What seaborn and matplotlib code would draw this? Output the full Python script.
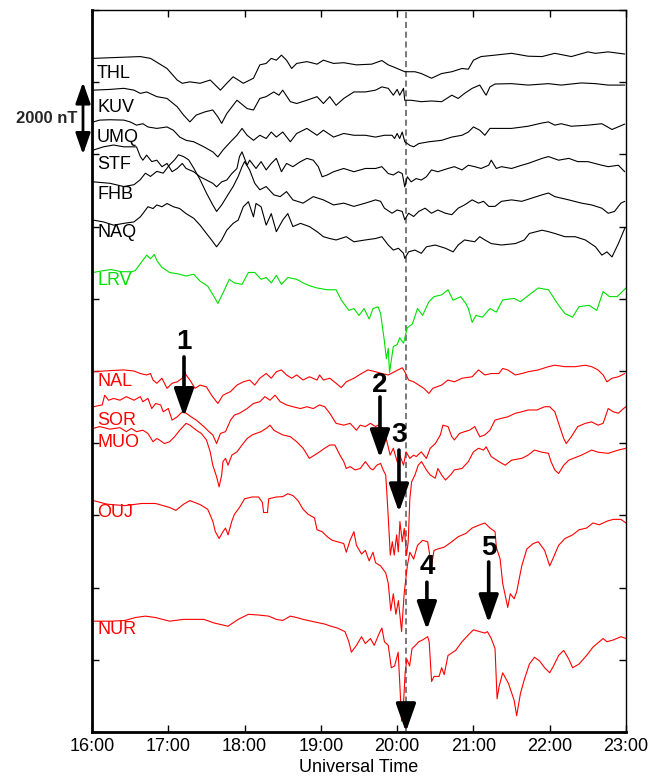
import numpy as np
import pandas as pd
import matplotlib
matplotlib.use("Agg")
import matplotlib.pyplot as plt
import seaborn as sns

# ---- magnetometer traces: minutes after 16:00 UT and deflection in nT ----
THL_MIN = [1,38,46,59,67,71,77,85,93,101,106,111,119,127,132,137,141,145,149,153,157,161,169,177,182,190,198,208,220,228,233,238,246,254,259,267,275,283,291,296,300,306,317,330,343,354,364,377,390,396,406,419]
THL_NT = [0,50,0,-280,-600,-690,-650,-690,-600,-880,-690,-510,-690,-550,-180,-140,0,-50,90,-50,-280,-140,-90,-160,-50,-140,-120,-180,-160,-60,-180,-250,-370,-370,-420,-550,-420,-370,-280,-300,-50,50,90,140,60,50,140,50,180,140,180,120]

KUV_MIN = [1,14,25,33,38,43,51,59,67,72,77,82,89,95,99,102,106,114,122,127,132,137,143,147,150,156,161,169,177,182,187,192,198,206,215,223,228,233,237,240,242,245,246,251,259,267,275,283,288,293,299,305,309,310,313,317,330,343,359,369,385,396,406,419]
KUV_NT = [0,20,50,0,-90,-50,-180,-230,-460,-690,-880,-690,-600,-550,-740,-920,-650,-280,-510,-550,-230,-180,-50,-140,0,-320,-370,-280,-180,-370,-180,-420,-230,-50,-50,0,90,50,-140,20,-140,50,-280,-280,-320,-300,-320,-140,-230,-90,50,140,-90,-140,90,170,180,140,180,140,200,180,140,140]

UMQ_MIN = [1,6,14,25,30,35,40,44,51,59,64,69,74,80,88,95,99,103,109,114,118,122,127,132,137,141,145,150,156,161,169,177,182,190,198,206,215,223,230,236,238,240,242,244,246,250,253,257,265,275,283,291,296,300,305,309,313,320,330,343,354,359,364,369,377,390,401,409,419]
UMQ_NT = [0,50,60,50,0,-90,-50,-140,-180,-140,-230,-420,-510,-550,-690,-830,-970,-780,-550,-370,-180,-370,-510,-370,-460,-280,-420,-280,-550,-320,-180,-370,-230,-420,-320,-370,-370,-420,-370,-370,-460,-320,-460,-280,-550,-650,-690,-600,-550,-510,-420,-370,-280,-140,-230,-370,-180,-180,-180,-120,-30,0,-90,-50,-120,-90,-50,-210,-60]

STF_MIN = [1,9,17,25,35,38,40,43,47,51,55,59,63,67,71,74,80,85,90,95,98,102,106,110,114,116,118,122,124,129,133,137,141,145,149,153,158,164,169,174,178,181,185,190,198,206,215,223,228,233,237,241,244,245,246,248,251,255,259,263,267,272,280,285,291,296,301,306,312,314,318,322,330,338,343,354,359,367,375,382,390,401,406,414,419]
STF_NT = [0,90,140,90,90,-180,-280,-140,-320,-280,-460,-370,-600,-510,-370,-510,-600,-740,-830,-920,-1020,-880,-830,-650,-510,-180,-50,-420,-280,-510,-320,-550,-370,-230,-600,-370,-460,-320,-230,-280,-460,-740,-690,-600,-510,-600,-510,-510,-460,-650,-690,-600,-650,-830,-1020,-740,-880,-790,-830,-740,-550,-600,-510,-460,-550,-420,-460,-510,-420,-280,-510,-460,-510,-420,-370,-230,-180,-280,-230,-320,-320,-420,-460,-420,-600]

FHB_MIN = [1,14,25,33,38,42,46,51,56,61,65,68,72,76,80,85,90,95,98,102,106,111,115,118,120,124,128,132,137,143,148,153,158,166,174,182,190,198,206,215,223,227,230,236,240,244,246,249,253,257,262,267,272,278,283,288,293,299,304,308,312,317,322,330,338,346,354,359,364,375,385,393,401,406,411,416,419]
FHB_NT = [0,-40,-130,-80,60,240,150,290,240,470,610,750,700,610,380,60,-310,-640,-820,-640,-410,-130,150,420,560,330,-40,-220,-130,-360,-410,-270,-500,-590,-410,-500,-640,-590,-680,-590,-500,-540,-730,-870,-780,-820,-1050,-870,-960,-820,-730,-870,-780,-870,-910,-730,-640,-500,-590,-540,-680,-680,-540,-500,-540,-450,-360,-310,-410,-500,-590,-640,-730,-870,-820,-590,-540]

NAQ_MIN = [1,9,17,25,33,38,40,44,48,51,55,59,64,69,74,80,85,90,94,98,102,106,111,115,119,123,127,129,133,137,141,145,150,154,158,164,171,177,182,187,192,200,206,215,223,228,233,237,241,245,246,249,254,259,263,270,278,284,288,293,301,305,309,314,322,333,340,344,354,359,364,372,380,388,396,401,405,409,414,419]
NAQ_NT = [0,-50,-140,-90,-50,90,180,370,320,420,370,460,370,320,180,50,-140,-370,-550,-740,-550,-280,-90,0,370,510,90,460,370,-140,180,-320,0,180,-180,-90,-180,-320,-460,-510,-550,-460,-600,-550,-510,-460,-690,-830,-780,-920,-1060,-880,-830,-920,-740,-690,-780,-880,-690,-550,-600,-460,-550,-650,-690,-650,-550,-370,-280,-320,-370,-460,-460,-550,-740,-970,-880,-1020,-650,-230]

LRV_MIN = [1,9,15,23,31,34,39,43,46,49,51,55,61,69,74,80,85,91,96,99,103,108,112,118,123,128,133,137,141,145,149,154,161,166,172,177,185,192,196,202,206,210,214,218,221,225,227,230,231.5,233,234,237,240,242,245,248,252,256,260,265,269,275,280,284,290,294,296,299,302,307,313,318,323,332,337,342,351,359,367,372,378,383,391,397,402,407,413,420]
LRV_NT = [0,50,80,20,20,50,290,480,380,500,330,140,0,-50,-100,-50,-240,-380,-670,-860,-570,-190,-290,-330,0,0,-190,-140,-290,-80,-330,-140,-190,-290,-380,-430,-480,-480,-760,-1050,-1000,-1190,-1000,-1290,-1000,-950,-1140,-1910,-2390,-2100,-2770,-2050,-2000,-1810,-1960,-1530,-1430,-1000,-1190,-810,-670,-620,-480,-770,-670,-860,-1000,-1380,-1190,-1240,-1000,-1100,-760,-720,-810,-670,-430,-480,-910,-1140,-1240,-950,-910,-1050,-530,-670,-670,-430]

NAL_MIN = [1,14,25,33,38,43,46,48,51,55,59,63,67,71,73,74,77,81,85,90,94,99,103,109,114,119,124,128,132,137,141,145,149,153,157,161,166,171,177,179,182,187,192,196,200,206,212,217,223,228,233,238,244,246,249,253,257,261,265,268,275,280,285,291,299,304,309,314,320,323,327,333,338,343,351,359,364,372,380,388,393,398,402,405,409,414,419]
NAL_NT = [0,30,50,20,-50,-90,-50,-230,-320,-180,-460,-320,-280,-180,0,-90,-230,-460,-370,-420,-650,-880,-650,-550,-370,-280,-230,-370,-180,-50,-180,0,50,-90,-180,-90,-230,-140,-230,-90,-230,-180,-320,-440,-280,-180,-50,50,0,-50,-90,0,110,0,-230,-280,-370,-460,-600,-460,-370,-230,-280,-180,-140,50,-90,-50,-50,90,50,-90,-50,0,50,140,180,140,140,180,140,50,-90,-280,-180,-140,-50]

SOR_MIN = [1,8,10,13,17,22,27,33,38,40,44,47,50,54,56,60,63,67,71,74,78,82,88,92,95,98,101,105,109,112,116,122,127,132,136,140,144,148,153,158,164,169,174,179,183,187,192,198,203,208,211,215,219,223,225,229,232,234.5,237,240,242,245,247,250,253,255,259,263,266,270,274,276,280,283,285,289,293,297,301,305,309,313,317,322,327,333,338,343,350,356,360,364,367,371,373,377,382,388,393,398,402,406,410,414,418,420]
SOR_NT = [0,50,320,180,230,180,280,180,280,140,230,-50,90,50,-140,-50,-370,-280,-140,-180,-280,-370,-550,-690,-780,-1020,-740,-690,-370,-230,-180,-50,90,140,280,180,320,140,50,0,-50,0,-50,50,0,-180,-460,-510,-460,-650,-510,-550,-460,-550,-510,-600,-970,-1340,-1150,-1520,-1340,-1620,-1250,-1430,-1340,-1380,-1250,-1430,-1150,-1020,-780,-510,-550,-830,-920,-740,-690,-650,-550,-830,-780,-650,-370,-320,-280,-180,-140,-90,-90,0,0,-140,-460,-880,-1020,-830,-550,-460,-420,-510,-460,-50,-140,-180,-50,0]

MUO_MIN = [1,6,14,22,27,31,35,40,44,48,51,53,57,61,65,69,74,77,82,86,90,93,95,98,100,102,103,105,107,110,114,118,122,126,129,133,137,140,143,145,150,156,161,166,171,175,179,183,187,191,195,198,200,203,207,211,215,219,221,224,227,229,231,232,233.5,234.6,236.2,237.7,239.6,240.9,242.2,244,245.6,247.4,248.7,250,251.4,254,256.6,259.2,263,266,270,272,275,278,282,285,291,296,300,304,308,310,314,320,325,330,338,343,348,354,359,361,364,367,371,375,385,393,398,406,414,420]
MUO_NT = [0,50,-20,20,-90,0,-90,-50,-140,-370,-280,-320,-420,-370,-230,-50,140,90,-50,-140,-320,-650,-1020,-1340,-1620,-1290,-920,-830,-1020,-740,-650,-460,-280,-180,-140,-90,0,90,-50,-90,-180,-230,-370,-550,-830,-740,-650,-550,-460,-460,-740,-920,-1110,-1060,-1150,-1110,-920,-1110,-1150,-1020,-970,-1150,-1290,-1850,-2770,-3510,-3140,-3510,-2950,-3420,-2580,-3140,-2770,-3510,-3140,-1940,-1480,-1290,-1020,-920,-1150,-1290,-1380,-1110,-1290,-1430,-1290,-1150,-1110,-920,-650,-550,-600,-510,-780,-920,-1020,-880,-830,-740,-600,-660,-690,-920,-1150,-1250,-1020,-880,-740,-600,-660,-690,-600,-550]

OUJ_MIN = [1,12,26,39,50,61,66,72,77,85,91,95,97,100,103,105,107,110,112,116,120,126,131,134,135,138,139,145,150,154,158,162,166,170,175,177,181,185,189,193,198,200,203,206,208,212,215,218,221,223,227,231,233,235,237,239,241,243.5,245.5,248,250,253,256,260,264,267,269,272,277,283,288,294,299,305,309,313,317,318,321,323,327,329,332,334,338,342,347,351,356,360,363,367,372,378,383,389,394,399,405,410,416,420]
OUJ_NT = [0,-100,-140,-80,-80,-190,-270,-100,0,-110,-240,-570,-860,-1050,-860,-760,-950,-570,-380,-190,50,100,100,-50,-330,-330,50,100,110,190,140,0,-240,-380,-480,-810,-860,-1000,-1100,-1140,-1190,-1430,-1100,-860,-1240,-1480,-1380,-1670,-1430,-1720,-1810,-2000,-2290,-3050,-2580,-3150,-2770,-3630,-2580,-1810,-1430,-1620,-1240,-1100,-1140,-1810,-1380,-1340,-1290,-1140,-1000,-910,-760,-670,-620,-760,-860,-1290,-1620,-2290,-2960,-2580,-2720,-2530,-1810,-1340,-1190,-1140,-1380,-1810,-1570,-1240,-1050,-950,-810,-760,-620,-670,-570,-520,-520,-620]

NUR_MIN = [1,15,26,34,42,50,61,72,88,96,107,115,123,131,139,145,150,156,161,166,175,183,188,193,199,202,204,208,212,215,219,222,226,228,230,233,235.4,238,240.8,242.2,243.5,245,246.3,247.6,249.8,251.7,254.4,257,260,264,265.2,267.1,269,273,275,277,280,286,291,296,300,305,309,311,314,317,318.6,320.2,323,327.5,332,334,337,340,344,348,352,356,360,363,367,371,375,378,383,389,394,399,402,405,410,416,420]
NUR_NT = [0,0,20,100,140,100,0,50,50,-50,-140,50,190,170,140,50,20,140,100,50,-20,-80,-140,-190,-290,-570,-860,-670,-430,-620,-480,-670,-330,-190,-570,-670,-1290,-1240,-860,-1810,-2770,-2290,-1430,-1050,-1240,-760,-670,-570,-520,-430,-570,-1670,-1530,-1530,-1290,-1480,-950,-810,-570,-380,-240,-290,-330,-290,-480,-760,-2150,-1810,-1430,-1720,-2190,-2620,-2000,-1620,-1190,-1000,-1100,-1290,-1430,-1240,-950,-810,-1050,-1290,-1190,-950,-720,-570,-480,-570,-520,-430,-480]

STATIONS = ["THL", "KUV", "UMQ", "STF", "FHB", "NAQ", "LRV",
            "NAL", "SOR", "MUO", "OUJ", "NUR"]
TRACES = {
    "THL": (THL_MIN, THL_NT), "KUV": (KUV_MIN, KUV_NT), "UMQ": (UMQ_MIN, UMQ_NT),
    "STF": (STF_MIN, STF_NT), "FHB": (FHB_MIN, FHB_NT), "NAQ": (NAQ_MIN, NAQ_NT),
    "LRV": (LRV_MIN, LRV_NT), "NAL": (NAL_MIN, NAL_NT), "SOR": (SOR_MIN, SOR_NT),
    "MUO": (MUO_MIN, MUO_NT), "OUJ": (OUJ_MIN, OUJ_NT), "NUR": (NUR_MIN, NUR_NT),
}
# vertical stacking offset of each station (nT)
STACK = {"THL": 18660, "KUV": 17780, "UMQ": 16900, "STF": 16120, "FHB": 15240,
         "NAQ": 14180, "LRV": 12730, "NAL": 9980, "SOR": 9010, "MUO": 8410,
         "OUJ": 6410, "NUR": 3070}
GREENLAND = ["THL", "KUV", "UMQ", "STF", "FHB", "NAQ"]
COLORS = {s: ("#000000" if s in GREENLAND else "#00e000" if s == "LRV" else "#ff0000")
          for s in STATIONS}

# label anchor levels (nT on the stacked axis)
LABEL_Y = {"THL": 18230, "KUV": 17290, "UMQ": 16480, "STF": 15710, "FHB": 14880,
           "NAQ": 13850, "LRV": 12520, "NAL": 9700, "SOR": 8640, "MUO": 8030,
           "OUJ": 6090, "NUR": 2850}

# onset arrows: (label, UT hour, label level, tail level, tip level)
ARROWS = [("1", 17.206, 10800, 10390, 8730), ("2", 19.775, 9610, 9280, 7590),
          ("3", 20.024, 8230, 7810, 6090), ("4", 20.39, 4570, 4150, 2830),
          ("5", 21.20, 5100, 4710, 3020)]
ONSET_UT = 20.115

frames = []
for s in STATIONS:
    mins, nt = TRACES[s]
    frames.append(pd.DataFrame({
        "station": s,
        "ut": 16 + np.asarray(mins, dtype=float) / 60.0,
        "level": STACK[s] + np.asarray(nt, dtype=float),
    }))
df = pd.concat(frames, ignore_index=True)

sns.set_theme(style="ticks")
plt.rcParams["font.family"] = ["Liberation Sans", "DejaVu Sans"]

W, H = 664, 779
fig = plt.figure(figsize=(W / 100, H / 100), dpi=100)
ax = fig.add_axes([92 / W, 1 - 732 / H, (626 - 92) / W, (732 - 10) / H])

sns.lineplot(data=df, x="ut", y="level", hue="station", palette=COLORS,
             estimator=None, legend=False, linewidth=0.8, ax=ax)

ax.axvline(ONSET_UT, color="#555555", lw=1.1, ls=(0, (4, 2.4)), zorder=1)

for s in STATIONS:
    ax.text(16.066, LABEL_Y[s], s, color=COLORS[s], fontsize=13,
            ha="left", va="center")

arrow_props = dict(arrowstyle="-|>,head_width=0.3,head_length=0.85",
                   lw=2.6, color="black", mutation_scale=20,
                   shrinkA=0, shrinkB=0)
for lab, t, ylab, tail, tip in ARROWS:
    ax.annotate("", xy=(t, tip), xytext=(t, tail), arrowprops=arrow_props,
                zorder=5)
    ax.text(t, ylab, lab, fontsize=20, fontweight="bold",
            ha="center", va="center", color="black", zorder=5)

# arrow head marking the onset at the bottom of the panel
ax.annotate("", xy=(ONSET_UT, 0), xytext=(ONSET_UT, 620),
            arrowprops=arrow_props, zorder=5, annotation_clip=False)

# 2000 nT scale bar
ax.annotate("", xy=(15.882, 18000), xytext=(15.882, 16000),
            arrowprops=dict(arrowstyle="<|-|>,head_width=0.28,head_length=0.8",
                            lw=2.0, color="black", mutation_scale=16,
                            shrinkA=0, shrinkB=0), annotation_clip=False)
ax.text(15.81, 17000, "2000 nT", fontsize=12, fontweight="bold",
        ha="right", va="center", clip_on=False)

ax.set_xlim(16, 23)
ax.set_ylim(0, 20000)
ax.set_xticks(range(16, 24))
ax.set_xticklabels([f"{h}:00" for h in range(16, 24)])
ax.set_yticks(np.arange(0, 20001, 2000))
ax.set_yticklabels([])
ax.tick_params(direction="in", length=5, width=1, top=True, right=True,
               labelsize=13, pad=4, colors="black")
ax.set_xlabel("Universal Time", fontsize=13, labelpad=3, color="black")
ax.set_ylabel("")
for side, lw in [("left", 2.0), ("bottom", 2.0), ("top", 1.0), ("right", 1.0)]:
    ax.spines[side].set_linewidth(lw)
    ax.spines[side].set_color("black")
    ax.spines[side].set_visible(True)

fig.savefig("out.png", dpi=100, facecolor="white")
